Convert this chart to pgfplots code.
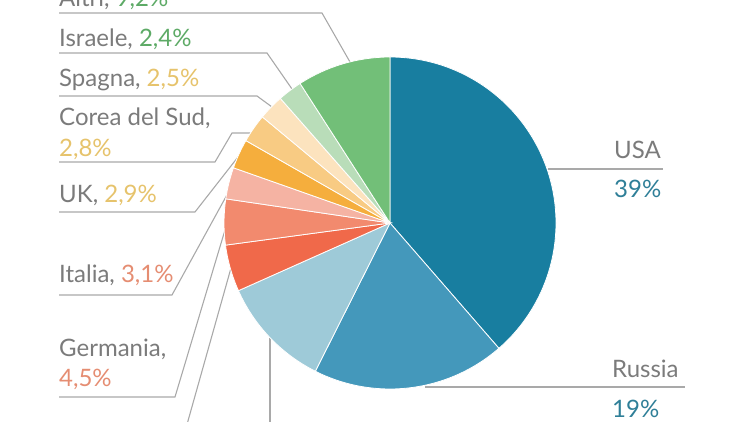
\documentclass[border=0pt]{standalone}
\usepackage{fontspec}
\setmainfont{Lato}
\usepackage{pgfplots}
\usepackage{pgfplotstable}
\pgfplotsset{compat=1.18}

% colori degli spicchi
\definecolor{cUSA}{HTML}{187EA0}
\definecolor{cRUS}{HTML}{4498BB}
\definecolor{cFRA}{HTML}{9ECAD8}
\definecolor{cCHN}{HTML}{F0694A}
\definecolor{cDEU}{HTML}{F28A6E}
\definecolor{cITA}{HTML}{F5B3A3}
\definecolor{cGBR}{HTML}{F5AE3D}
\definecolor{cKOR}{HTML}{F8CB83}
\definecolor{cESP}{HTML}{FCE3BE}
\definecolor{cISR}{HTML}{B9DDB9}
\definecolor{cALT}{HTML}{72BF78}
% colori dei testi
\definecolor{txt}{HTML}{7B7B7B}
\definecolor{lead}{HTML}{A9A9A9}
\definecolor{tTeal}{HTML}{2F7F98}
\definecolor{tGreen}{HTML}{5DAA66}
\definecolor{tGold}{HTML}{E6C36C}
\definecolor{tSalmon}{HTML}{E58D72}

\pgfplotstableread{
paese     quota  col
USA       39     cUSA
Russia    19     cRUS
Francia   11     cFRA
Cina      4.6    cCHN
Germania  4.5    cDEU
Italia    3.1    cITA
UK        2.9    cGBR
Corea     2.8    cKOR
Spagna    2.5    cESP
Israele   2.4    cISR
Altri     9.2    cALT
}\quotedata

\newcommand{\lbl}{\fontsize{24}{28}\selectfont}

\begin{document}
\begin{tikzpicture}
\useasboundingbox (0,0) rectangle (750pt,422pt);
\clip (0,0) rectangle (750pt,422pt);
\begin{axis}[
  x=1pt, y=1pt,
  xmin=0, xmax=750, ymin=0, ymax=422,
  at={(0,0)}, anchor=south west,
  hide axis, clip=false,
  leader/.style={draw=lead, line width=1.1pt, mark=none},
]
% linee guida
\addplot[leader] coordinates {(59,409) (322,409) (350,360)};
\addplot[leader] coordinates {(59,369) (267,369) (292,333)};
\addplot[leader] coordinates {(59,326) (257,326) (272,315)};
\addplot[leader] coordinates {(59,260) (215,260) (232,289) (250,289)};
\addplot[leader] coordinates {(59,210) (195,210) (238,265)};
\addplot[leader] coordinates {(59,127) (172,127) (228,229)};
\addplot[leader] coordinates {(59,25) (175,25) (225,192)};
\addplot[leader] coordinates {(177,-38) (231,154)};
\addplot[leader] coordinates {(270,84) (270,-40)};
\addplot[leader] coordinates {(548,253) (663,253)};
\addplot[leader] coordinates {(425,35) (685,35)};

% spicchi della torta
\pgfplotstablegetrowsof{\quotedata}
\pgfmathtruncatemacro\lastrow{\pgfplotsretval-1}
\def\totale{0}
\pgfplotsforeachungrouped \i in {0,...,\lastrow}{%
  \pgfplotstablegetelem{\i}{quota}\of\quotedata
  \pgfmathsetmacro\totale{\totale+\pgfplotsretval}%
}
\def\cum{0}
\pgfplotsforeachungrouped \i in {0,...,\lastrow}{%
  \pgfplotstablegetelem{\i}{quota}\of\quotedata
  \let\val\pgfplotsretval
  \pgfplotstablegetelem{\i}{col}\of\quotedata
  \let\colW\pgfplotsretval
  \pgfmathsetmacro\angA{90-360*(\cum/\totale)}%
  \pgfmathsetmacro\angB{90-360*((\cum+\val)/\totale)}%
  \edef\wedgecmd{\noexpand\fill[fill=\colW, draw=white, line width=0.8pt]
    (axis cs:390,199) -- ++(\angA:166pt)
    arc[start angle=\angA, end angle=\angB, radius=166pt] -- cycle;}%
  \wedgecmd
  \pgfmathsetmacro\cum{\cum+\val}%
}

% etichette
\begin{scope}[every node/.style={inner sep=0pt, anchor=base west, font=\lbl, text=txt}]
\node at (axis cs:59,415) {Altri, \textcolor{tGreen}{9,2\%}};
\node at (axis cs:59,375) {Israele, \textcolor{tGreen}{2,4\%}};
\node at (axis cs:59,335) {Spagna, \textcolor{tGold}{2,5\%}};
\node at (axis cs:59,296) {Corea del Sud,};
\node at (axis cs:59,265) {\textcolor{tGold}{2,8\%}};
\node at (axis cs:59,219) {UK, \textcolor{tGold}{2,9\%}};
\node at (axis cs:59,139) {Italia, \textcolor{tSalmon}{3,1\%}};
\node at (axis cs:59,65) {Germania,};
\node at (axis cs:59,35) {\textcolor{tSalmon}{4,5\%}};
\node at (axis cs:614,263) {USA};
\node at (axis cs:614,224) {\textcolor{tTeal}{39\%}};
\node at (axis cs:612,44) {Russia};
\node at (axis cs:612,4) {\textcolor{tTeal}{19\%}};
\end{scope}
\end{axis}
\end{tikzpicture}
\end{document}
